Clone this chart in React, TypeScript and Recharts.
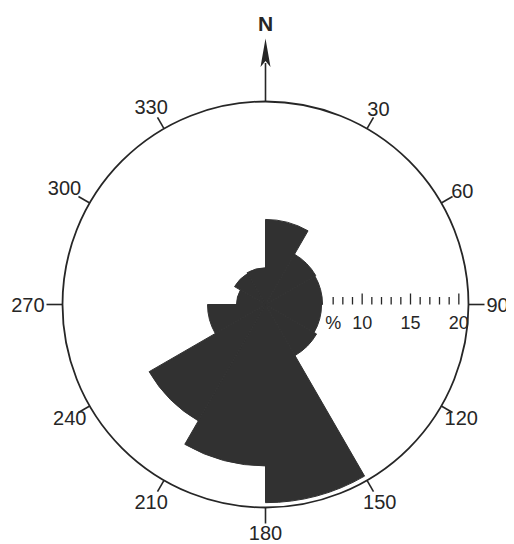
import { RadialBarChart, RadialBar, PolarAngleAxis, PolarRadiusAxis } from 'recharts';

// rose diagram: 30 degree sectors, percent of readings per sector
const SECTORS = ['0-30', '30-60', '60-90', '90-120', '120-150', '150-180', '180-210', '210-240', '240-270', '270-300', '300-330', '330-360'];
const PERCENT = [8.8, 6.0, 5.9, 5.8, 6.1, 20.5, 16.7, 13.9, 6.0, 3.0, 3.7, 3.8];
const BEARING_LABELS = [30, 60, 90, 120, 150, 180, 210, 240, 270, 300, 330];
const SCALE_TICKS = [7, 8, 9, 10, 11, 12, 13, 14, 15, 16, 17, 18, 19, 20];
const SCALE_LABELS: { [k: number]: string } = { 7: '%', 10: '10', 15: '15', 20: '20' };

const data = SECTORS.map((s, i) => ({ sector: s, pct: PERCENT[i] }));

const W = 506;
const H = 536;
const CX = 257.5;
const CY = 296.5;
const R = 203;
const INK = '#262626';
const PETAL = '#313131';
const FONT = '"Liberation Sans", Arial, sans-serif';

const pt = (r: number, bearing: number) => {
  const a = (bearing * Math.PI) / 180;
  return [CX + r * Math.sin(a), CY - r * Math.cos(a)];
};

const ScaleTick = (props: any) => {
  const { x, y, payload } = props;
  const v = payload.value;
  const tall = v % 5 === 0;
  const label = SCALE_LABELS[v];
  return (
    <g>
      <line x1={x} x2={x} y1={y - (tall ? 11 : 7.5)} y2={y} stroke={INK} strokeWidth={1.3} />
      {label && (
        <text x={x} y={y + 18} textAnchor="middle" dominantBaseline="central" fontSize={18} fontFamily={FONT} fill={INK}>
          {label}
        </text>
      )}
    </g>
  );
};

const Compass = () => {
  return (
    <g>
      <circle cx={CX} cy={CY} r={R} fill="none" stroke={INK} strokeWidth={1.8} />
      {BEARING_LABELS.map((b) => {
        const cardinal = b % 90 === 0;
        const [x1, y1] = pt(R, b);
        const [x2, y2] = pt(R + (cardinal ? 16 : 13), b);
        const txt = String(b);
        const w = txt.length * 11.1;
        const h = 14.5;
        const a = (b * Math.PI) / 180;
        const r0 = cardinal ? 221 : b === 120 || b === 240 ? 208 : 214;
        const off = r0 + (w / 2) * Math.abs(Math.sin(a)) + (h / 2) * Math.abs(Math.cos(a));
        const [tx, ty] = pt(off, b);
        return (
          <g key={b}>
            <line x1={x1} y1={y1} x2={x2} y2={y2} stroke={INK} strokeWidth={1.6} />
            <text x={tx} y={ty} textAnchor="middle" dominantBaseline="central" fontSize={20} fontFamily={FONT} fill={INK}>
              {txt}
            </text>
          </g>
        );
      })}
      <line x1={CX} y1={CY - R} x2={CX} y2={55} stroke={INK} strokeWidth={1.6} />
      <path d={`M${CX} 30.5 L${CX - 5} 59 L${CX} 53 L${CX + 5} 59 Z`} fill={INK} />
      <text x={CX} y={15} textAnchor="middle" dominantBaseline="central" fontSize={21} fontWeight={600} fontFamily={FONT} fill={INK}>
        N
      </text>
    </g>
  );
};

export default function App() {
  return (
    <RadialBarChart
      width={W}
      height={H}
      data={data}
      layout="centric"
      cx={CX}
      cy={CY}
      innerRadius={0}
      outerRadius={R}
      startAngle={60}
      endAngle={-300}
      barCategoryGap={0}
      barGap={0}
      margin={{ top: 0, right: 0, bottom: 0, left: 0 }}
      style={{ background: '#fff' }}
    >
      <PolarAngleAxis dataKey="sector" type="category" tick={false} axisLine={false} tickLine={false} />
      <PolarRadiusAxis
        type="number"
        domain={[0, 20.6]}
        angle={0}
        ticks={SCALE_TICKS}
        tick={ScaleTick}
        axisLine={false}
        tickLine={false}
      />
      <RadialBar dataKey="pct" fill={PETAL} stroke={PETAL} strokeWidth={1} isAnimationActive={false} />
      <Compass />
    </RadialBarChart>
  );
}
